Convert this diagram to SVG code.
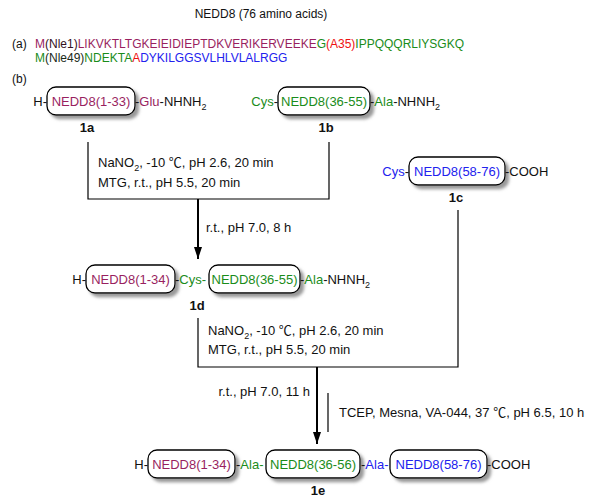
<svg xmlns="http://www.w3.org/2000/svg" width="593" height="504" viewBox="0 0 593 504">
<style>
text{font-family:"Liberation Sans",Arial,"Noto Sans CJK SC",sans-serif;fill:#111;}
.seq{font-size:12px;}
.t{font-size:13px;}
.c{font-size:13px;}
.mid{text-anchor:middle;}
.end{text-anchor:end;}
.lbl{font-size:13px;font-weight:bold;text-anchor:middle;}
.box{fill:#fff;stroke:#000;stroke-width:1.3;filter:url(#sh);}
.mar{fill:#991f5f;}
.grn{fill:#1a8c1a;}
.blu{fill:#2222ee;}
.red{fill:#ee1111;}
.ln{stroke:#000;stroke-width:1.2;fill:none;}
.arr{stroke:#000;stroke-width:2;fill:none;marker-end:url(#ah);}
.sub{font-size:9px;}
</style>
<defs>
<filter id="sh" x="-10%" y="-20%" width="125%" height="150%">
<feDropShadow dx="3.5" dy="3.5" stdDeviation="1.4" flood-color="#777" flood-opacity="0.75"/>
</filter>
<marker id="ah" markerUnits="userSpaceOnUse" markerWidth="12" markerHeight="8" refX="12" refY="4" orient="auto">
<path d="M0,0 L12,4 L0,8 Z" fill="#000"/>
</marker>
</defs>

<g id="title"><text x="261" y="18" class="seq mid">NEDD8 (76 amino acids)</text></g>

<g id="sequence">
<text x="12" y="48" class="seq">(a)</text>
<text x="35" y="48" class="seq"><tspan class="mar">M</tspan><tspan fill="#331122">(Nle1)</tspan><tspan class="mar">LIKVKTLTGKEIEIDIEPTDKVERIKERVEEKE</tspan><tspan class="grn">G</tspan><tspan class="red">(A35)</tspan><tspan class="grn">IPPQQQRLIYSGKQ</tspan></text>
<text x="35" y="62" class="seq"><tspan class="grn">M</tspan><tspan fill="#1a2a1a">(Nle49)</tspan><tspan class="grn">NDEKTA</tspan><tspan class="red">A</tspan><tspan class="blu">DYKILGGSVLHLVLALRGG</tspan></text>
<text x="12" y="83" class="seq">(b)</text>
</g>

<g id="node-1a">
<text x="47" y="106" class="t end">H-</text>
<rect x="47" y="87" width="88" height="28" rx="9" class="box"/>
<text x="91" y="106" class="t mid mar">NEDD8(1-33)</text>
<text x="135" y="106" class="t">-<tspan class="mar">Glu</tspan>-NHNH<tspan class="sub" dy="3.5">2</tspan></text>
<text x="87" y="132" class="lbl">1a</text>
</g>

<g id="node-1b">
<text x="278" y="106" class="t end"><tspan class="grn">Cys</tspan>-</text>
<rect x="278" y="87" width="92" height="28" rx="9" class="box"/>
<text x="324" y="106" class="t mid grn">NEDD8(36-55)</text>
<text x="370" y="106" class="t">-<tspan class="grn">Ala</tspan>-NHNH<tspan class="sub" dy="3.5">2</tspan></text>
<text x="326" y="132" class="lbl">1b</text>
</g>

<g id="node-1c">
<text x="409" y="176" class="t end"><tspan class="blu">Cys</tspan>-</text>
<rect x="409" y="157" width="96" height="28" rx="9" class="box"/>
<text x="457" y="176" class="t mid blu">NEDD8(58-76)</text>
<text x="505" y="176" class="t">-COOH</text>
<text x="456" y="202" class="lbl">1c</text>
</g>

<g id="node-1d">
<text x="86" y="284" class="t end">H-</text>
<rect x="86" y="265" width="89" height="28" rx="9" class="box"/>
<text x="130.5" y="284" class="t mid mar">NEDD8(1-34)</text>
<text x="175" y="284" class="t">-<tspan class="grn">Cys-</tspan></text>
<rect x="209" y="265" width="91" height="28" rx="9" class="box"/>
<text x="254.5" y="284" class="t mid grn">NEDD8(36-55)</text>
<text x="300" y="284" class="t">-<tspan class="grn">Ala</tspan>-NHNH<tspan class="sub" dy="3.5">2</tspan></text>
<text x="197" y="310" class="lbl">1d</text>
</g>

<g id="node-1e">
<text x="148" y="469" class="t end">H-</text>
<rect x="148" y="450" width="87" height="28" rx="9" class="box"/>
<text x="191.5" y="469" class="t mid mar">NEDD8(1-34)</text>
<text x="236" y="469" class="t">-<tspan class="grn">Ala-</tspan></text>
<rect x="266" y="450" width="94" height="28" rx="9" class="box"/>
<text x="313" y="469" class="t mid grn">NEDD8(36-56)</text>
<text x="361" y="469" class="t">-<tspan class="blu">Ala-</tspan></text>
<rect x="390" y="450" width="97" height="28" rx="9" class="box"/>
<text x="438.5" y="469" class="t mid blu">NEDD8(58-76)</text>
<text x="487" y="469" class="t">-COOH</text>
<text x="318" y="495" class="lbl">1e</text>
</g>

<g id="connectors">
<path class="ln" d="M88,142 V199 H329 V142"/>
<line class="arr" x1="198" y1="199" x2="198" y2="259"/>
<path class="ln" d="M198,318 V367 H458 V210"/>
<line class="arr" x1="317" y1="367" x2="317" y2="444"/>
<line class="ln" x1="328" y1="393" x2="328" y2="432"/>
</g>

<g id="conditions">
<text x="98" y="167" class="c">NaNO<tspan class="sub" dy="3.5">2</tspan><tspan dy="-3.5">, -10 ℃, pH 2.6, 20 min</tspan></text>
<text x="98" y="187" class="c">MTG, r.t., pH 5.5, 20 min</text>
<text x="206" y="232" class="c">r.t., pH 7.0, 8 h</text>
<text x="208" y="335" class="c">NaNO<tspan class="sub" dy="3.5">2</tspan><tspan dy="-3.5">, -10 ℃, pH 2.6, 20 min</tspan></text>
<text x="208" y="354" class="c">MTG, r.t., pH 5.5, 20 min</text>
<text x="310" y="396" class="c end">r.t., pH 7.0, 11 h</text>
<text x="339" y="417" class="c">TCEP, Mesna, VA-044, 37 ℃, pH 6.5, 10 h</text>
</g>
</svg>
